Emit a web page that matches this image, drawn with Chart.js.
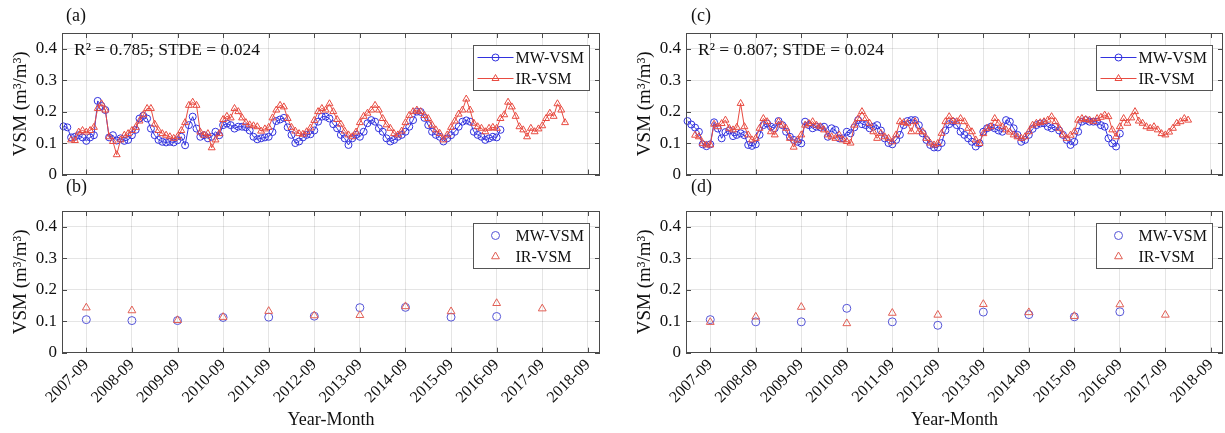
<!DOCTYPE html>
<html>
<head>
<meta charset="utf-8">
<script src="https://cdn.jsdelivr.net/npm/chart.js@4.4.1/dist/chart.umd.min.js"></script>
<style>
html, body { margin:0; padding:0; background:#ffffff; overflow:hidden; }
body { width:1225px; height:433px; position:relative; }
.panel { position:absolute; }
.panel canvas { display:block; }
</style>
</head>
<body>
<div class="panel" style="left:0px;top:0px;width:620px;height:190px"><canvas id="cA" width="620" height="190"></canvas></div>
<div class="panel" style="left:0px;top:178px;width:620px;height:255px"><canvas id="cB" width="620" height="255"></canvas></div>
<div class="panel" style="left:624px;top:0px;width:616px;height:190px"><canvas id="cC" width="616" height="190"></canvas></div>
<div class="panel" style="left:624px;top:178px;width:616px;height:255px"><canvas id="cD" width="616" height="255"></canvas></div>
<script>
// ---------------- data ----------------
const tickLabels = ['2007-09','2008-09','2009-09','2010-09','2011-09','2012-09','2013-09','2014-09','2015-09','2016-09','2017-09','2018-09'];
const yTickValues = [0, 0.1, 0.2, 0.3, 0.4];
const yTickLabels = ['0', '0.1', '0.2', '0.3', '0.4'];

// panel (a) monthly series
const mwA_start = '2007-03';
const mwA = [
  0.153,0.150,0.118,0.120,0.125,0.118,0.107,0.118,0.125,
  0.234,0.218,0.205,0.118,0.125,0.108,0.115,0.107,0.110,0.125,
  0.142,0.178,0.187,0.178,0.146,0.125,0.110,0.104,0.102,0.104,
  0.102,0.109,0.120,0.093,0.157,0.184,0.146,0.120,0.125,0.115,
  0.120,0.136,0.125,0.157,0.162,0.157,0.146,0.152,0.152,0.150,
  0.140,0.120,0.112,0.115,0.118,0.120,0.135,0.170,0.175,0.180,
  0.150,0.126,0.100,0.105,0.118,0.126,0.128,0.140,0.168,0.184,
  0.184,0.178,0.160,0.147,0.126,0.115,0.094,0.115,0.126,0.120,
  0.136,0.163,0.173,0.168,0.147,0.136,0.115,0.105,0.110,0.120,
  0.126,0.136,0.152,0.173,0.200,0.199,0.180,0.157,0.136,0.126,
  0.120,0.105,0.115,0.125,0.136,0.152,0.168,0.172,0.168,0.136,
  0.126,0.120,0.110,0.115,0.120,0.118,0.142
];
const irA_start = '2007-05';
const irA = [
  0.110,0.108,0.135,0.140,0.135,0.140,0.150,
  0.210,0.225,0.205,0.120,0.105,0.063,0.110,0.125,0.130,0.140,
  0.150,0.170,0.190,0.210,0.210,0.160,0.140,0.130,0.125,0.120,
  0.115,0.120,0.140,0.165,0.220,0.230,0.220,0.135,0.125,0.130,
  0.085,0.110,0.130,0.175,0.185,0.180,0.210,0.200,0.180,0.165,
  0.158,0.155,0.152,0.138,0.145,0.150,0.180,0.205,0.220,0.215,
  0.178,0.150,0.138,0.130,0.128,0.136,0.148,0.172,0.200,0.210,
  0.205,0.225,0.200,0.175,0.160,0.138,0.126,0.120,0.135,0.165,
  0.185,0.195,0.205,0.220,0.205,0.178,0.158,0.147,0.130,0.126,
  0.138,0.165,0.188,0.200,0.205,0.200,0.188,0.178,0.157,0.142,
  0.131,0.110,0.126,0.150,0.170,0.192,0.205,0.240,0.205,0.163,
  0.152,0.147,0.136,0.147,0.150,0.147,0.178,0.190,0.230,0.215,
  0.185,0.152,0.142,0.120,0.147,0.136,0.145,0.155,0.178,0.195,
  0.185,0.225,0.205,0.165
];

// panel (c) monthly series
const mwC_start = '2007-03';
const mwC = [
  0.170,0.159,0.149,0.136,0.096,0.090,0.096,0.166,0.146,
  0.115,0.135,0.140,0.122,0.126,0.131,0.125,0.094,0.091,0.096,
  0.126,0.157,0.162,0.152,0.147,0.170,0.157,0.136,0.120,0.110,
  0.104,0.099,0.168,0.157,0.147,0.152,0.150,0.152,0.120,0.147,
  0.142,0.115,0.115,0.136,0.131,0.150,0.173,0.160,0.157,0.147,
  0.152,0.157,0.140,0.115,0.100,0.096,0.110,0.126,0.157,0.170,
  0.173,0.173,0.157,0.131,0.110,0.094,0.086,0.086,0.100,0.140,
  0.160,0.168,0.157,0.136,0.126,0.115,0.104,0.089,0.099,0.136,
  0.147,0.152,0.147,0.140,0.136,0.173,0.168,0.147,0.126,0.104,
  0.110,0.126,0.145,0.157,0.162,0.163,0.152,0.147,0.152,0.140,
  0.126,0.110,0.094,0.104,0.136,0.168,0.173,0.168,0.168,0.168,
  0.157,0.152,0.115,0.099,0.089,0.130
];
const irC_start = '2007-05';
const irC = [
  0.125,0.120,0.099,0.094,0.094,0.160,0.152,
  0.162,0.173,0.147,0.142,0.150,0.226,0.152,0.126,0.110,0.115,
  0.147,0.178,0.168,0.136,0.126,0.168,0.157,0.147,0.115,0.087,
  0.110,0.126,0.157,0.162,0.168,0.157,0.152,0.142,0.126,0.120,
  0.115,0.126,0.110,0.105,0.100,0.157,0.178,0.200,0.178,0.163,
  0.136,0.115,0.131,0.120,0.115,0.104,0.126,0.168,0.165,0.163,
  0.136,0.168,0.136,0.136,0.115,0.100,0.094,0.099,0.131,0.168,
  0.184,0.170,0.168,0.178,0.168,0.147,0.136,0.110,0.099,0.130,
  0.147,0.152,0.178,0.163,0.152,0.142,0.135,0.126,0.120,0.115,
  0.120,0.136,0.157,0.163,0.165,0.168,0.173,0.184,0.168,0.147,
  0.126,0.115,0.125,0.136,0.173,0.178,0.175,0.173,0.168,0.178,
  0.182,0.189,0.184,0.142,0.120,0.152,0.178,0.163,0.180,0.200,
  0.170,0.163,0.152,0.147,0.152,0.142,0.130,0.126,0.135,0.147,
  0.163,0.168,0.178,0.173
];

// panels (b) and (d): September values
const septMonths = ['2007-09','2008-09','2009-09','2010-09','2011-09','2012-09','2013-09','2014-09','2015-09','2016-09','2017-09'];
const mwB = [0.105,0.102,0.102,0.112,0.113,0.116,0.143,0.144,0.113,0.115];
const irB = [0.143,0.134,0.103,0.113,0.132,0.118,0.119,0.147,0.131,0.157,0.140];
const mwD = [0.105,0.098,0.098,0.141,0.098,0.087,0.129,0.121,0.114,0.130];
const irD = [0.097,0.114,0.145,0.093,0.126,0.120,0.154,0.128,0.116,0.153,0.120];

// ---------------- helpers ----------------
const FONT = '"Liberation Serif", "Times New Roman", serif';
const X_MIN = 1.6, X_MAX = 143.2;
const GRID = 'rgba(0,0,0,0.10)';
const AXIS = '#4a4a4a';
const TICK = 5;
const BLUE = 'rgb(50,50,222)';
const RED = 'rgb(232,75,65)';
const BLUE_PT = 'rgb(85,85,215)';
const RED_PT = 'rgb(225,95,85)';

function monthIndex(s) { const p = s.split('-'); return (Number(p[0]) - 2007) * 12 + (Number(p[1]) - 1); }
const tickMonths = tickLabels.map(monthIndex);
function series(start, vals) { const s0 = monthIndex(start); return vals.map((v, i) => ({x: s0 + i, y: v})); }
function septSeries(vals) { return vals.map((v, i) => ({x: monthIndex(septMonths[i]), y: v})); }

function drawMarker(ctx, style, x, y, r) {
  ctx.beginPath();
  if (style === 'triangle') {
    let rad = 0;
    ctx.moveTo(x + Math.sin(rad) * r, y - Math.cos(rad) * r);
    rad += Math.PI * 2 / 3;
    ctx.lineTo(x + Math.sin(rad) * r, y - Math.cos(rad) * r);
    rad += Math.PI * 2 / 3;
    ctx.lineTo(x + Math.sin(rad) * r, y - Math.cos(rad) * r);
    ctx.closePath();
  } else {
    ctx.arc(x, y, r, 0, Math.PI * 2);
  }
  ctx.stroke();
}

function decorPlugin(d) {
  return {
    id: 'decor',
    afterDraw(chart) {
      const ctx = chart.ctx, a = chart.chartArea;
      const xs = chart.scales.x, ys = chart.scales.y;
      ctx.save();
      ctx.lineWidth = 1;
      ctx.strokeStyle = AXIS;
      ctx.beginPath();
      xs.ticks.forEach(t => {
        const px = Math.round(xs.getPixelForValue(t.value)) + 0.5;
        ctx.moveTo(px, a.bottom); ctx.lineTo(px, a.bottom - TICK);
        ctx.moveTo(px, a.top); ctx.lineTo(px, a.top + TICK);
      });
      ys.ticks.forEach(t => {
        const py = Math.round(ys.getPixelForValue(t.value)) + 0.5;
        ctx.moveTo(a.left, py); ctx.lineTo(a.left + TICK, py);
        ctx.moveTo(a.right, py); ctx.lineTo(a.right - TICK, py);
      });
      ctx.stroke();
      ctx.strokeRect(Math.round(a.left) + 0.5, Math.round(a.top) + 0.5,
                     Math.round(a.right - a.left) - 1, Math.round(a.bottom - a.top) - 1);

      // panel label
      ctx.fillStyle = '#111';
      ctx.textBaseline = 'middle';
      ctx.textAlign = 'left';
      ctx.font = '18px ' + FONT;
      ctx.fillText(d.label, a.left + d.labelDx, a.top + d.labelDy);

      // statistics note
      if (d.note) {
        ctx.font = '17.5px ' + FONT;
        ctx.fillText(d.note, a.left + 12, a.top + 17);
      }

      // legend
      const L = d.legend;
      const bx = Math.round(a.right - L.dxRight) + 0.5, by = Math.round(a.top + L.dy) + 0.5;
      ctx.fillStyle = '#ffffff';
      ctx.fillRect(bx, by, L.w, L.h);
      ctx.strokeStyle = '#555';
      ctx.strokeRect(bx, by, L.w, L.h);
      ctx.font = '16px ' + FONT;
      chart.data.datasets.forEach((ds, i) => {
        const ry = by + L.row0 + i * L.rowGap;
        ctx.strokeStyle = ds.borderColor;
        ctx.lineWidth = 1;
        if (L.line) {
          ctx.beginPath();
          ctx.moveTo(bx + 4, ry); ctx.lineTo(bx + 40, ry);
          ctx.stroke();
        }
        drawMarker(ctx, ds.pointStyle, bx + 22, ry, ds.pointRadius);
        ctx.fillStyle = '#111';
        ctx.fillText(ds.label, bx + 42, ry + 1);
      });
      ctx.restore();
    }
  };
}

function makeChart(id, cfg) {
  new Chart(document.getElementById(id), {
    type: 'line',
    data: { datasets: cfg.datasets },
    options: {
      responsive: false,
      animation: false,
      devicePixelRatio: 1,
      events: [],
      layout: { padding: cfg.padding },
      plugins: { legend: { display: false }, tooltip: { enabled: false } },
      scales: {
        x: {
          type: 'linear', min: X_MIN, max: X_MAX,
          afterBuildTicks: s => { s.ticks = tickMonths.map(v => ({ value: v })); },
          afterFit: s => { s.height = cfg.xHeight; },
          grid: { color: GRID, drawTicks: false, lineWidth: 1 },
          border: { display: false },
          ticks: {
            display: cfg.showX, autoSkip: false, maxRotation: 45, minRotation: 45, padding: 3,
            color: '#111', font: { size: 16, family: FONT },
            callback: (v, i) => tickLabels[i]
          },
          title: { display: cfg.showX, text: 'Year-Month', color: '#111', font: { size: 18, family: FONT }, padding: { top: 0, bottom: 2 } }
        },
        y: {
          type: 'linear', min: 0, max: 0.45,
          afterBuildTicks: s => { s.ticks = yTickValues.map(v => ({ value: v })); },
          afterFit: s => { s.width = 62; },
          grid: { color: GRID, drawTicks: false, lineWidth: 1 },
          border: { display: false },
          ticks: { padding: 5, color: '#111', font: { size: 17, family: FONT }, callback: (v, i) => yTickLabels[i] },
          title: { display: true, text: 'VSM (m³/m³)', color: '#111', font: { size: 19, family: FONT }, padding: { top: 10, bottom: 0 } }
        }
      }
    },
    plugins: [decorPlugin(cfg.decor)]
  });
}

function lineSets(mwStart, mw, irStart, ir) {
  return [
    { label: 'MW-VSM', data: series(mwStart, mw), borderColor: BLUE, borderWidth: 1, backgroundColor: 'rgba(0,0,0,0)',
      pointStyle: 'circle', pointRadius: 3.5, pointBorderColor: BLUE, pointBackgroundColor: 'rgba(0,0,0,0)', pointBorderWidth: 1,
      tension: 0, fill: false, order: 1, clip: 5 },
    { label: 'IR-VSM', data: series(irStart, ir), borderColor: RED, borderWidth: 1, backgroundColor: 'rgba(0,0,0,0)',
      pointStyle: 'triangle', pointRadius: 4, pointBorderColor: RED, pointBackgroundColor: 'rgba(0,0,0,0)', pointBorderWidth: 1,
      tension: 0, fill: false, order: 0, clip: 5 }
  ];
}
function pointSets(mw, ir) {
  return [
    { label: 'MW-VSM', data: septSeries(mw), showLine: false, borderColor: BLUE_PT, backgroundColor: 'rgba(0,0,0,0)',
      pointStyle: 'circle', pointRadius: 4, pointBorderColor: BLUE_PT, pointBackgroundColor: 'rgba(0,0,0,0)', pointBorderWidth: 1, order: 1 },
    { label: 'IR-VSM', data: septSeries(ir), showLine: false, borderColor: RED_PT, backgroundColor: 'rgba(0,0,0,0)',
      pointStyle: 'triangle', pointRadius: 4.5, pointBorderColor: RED_PT, pointBackgroundColor: 'rgba(0,0,0,0)', pointBorderWidth: 1, order: 0 }
  ];
}

const topLegend = { dxRight: 127, dy: 12, w: 116, h: 45, row0: 12, rowGap: 21, line: true };
const botLegend = { dxRight: 127, dy: 12, w: 116, h: 45, row0: 12, rowGap: 21, line: false };

makeChart('cA', {
  datasets: lineSets(mwA_start, mwA, irA_start, irA),
  padding: { top: 33, right: 20, bottom: 15.5, left: 0 }, xHeight: 0, showX: false,
  decor: { label: '(a)', labelDx: 4, labelDy: -17, note: 'R² = 0.785; STDE = 0.024', legend: topLegend }
});
makeChart('cB', {
  datasets: pointSets(mwB, irB),
  padding: { top: 33, right: 20, bottom: 0, left: 0 }, xHeight: 80.3, showX: true,
  decor: { label: '(b)', labelDx: 4, labelDy: -24, note: null, legend: botLegend }
});
makeChart('cC', {
  datasets: lineSets(mwC_start, mwC, irC_start, irC),
  padding: { top: 33, right: 17, bottom: 15.5, left: 0 }, xHeight: 0, showX: false,
  decor: { label: '(c)', labelDx: 5, labelDy: -17, note: 'R² = 0.807; STDE = 0.024', legend: topLegend }
});
makeChart('cD', {
  datasets: pointSets(mwD, irD),
  padding: { top: 33, right: 17, bottom: 0, left: 0 }, xHeight: 80.3, showX: true,
  decor: { label: '(d)', labelDx: 5, labelDy: -24, note: null, legend: botLegend }
});
</script>
</body>
</html>
